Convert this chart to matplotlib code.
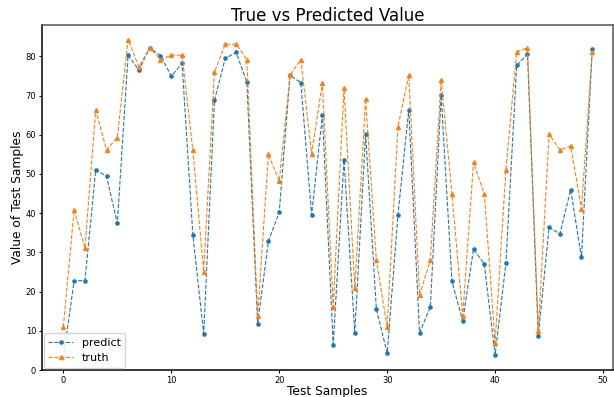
import numpy as np
import matplotlib
matplotlib.use("Agg")
import matplotlib.pyplot as plt

# test sample index
samples = list(range(50))

# model output
predict = [3.0, 22.8, 22.8, 51.1, 49.4, 37.4, 80.3, 76.5, 82.2, 80.2,
           75.0, 78.2, 34.4, 9.3, 68.8, 79.5, 81.0, 73.5, 11.8, 32.9,
           40.2, 75.2, 73.3, 39.6, 65.0, 6.5, 53.6, 9.5, 60.3, 15.5,
           4.3, 39.6, 66.4, 9.5, 16.1, 70.1, 22.6, 12.5, 30.9, 27.0,
           3.8, 27.3, 77.7, 80.6, 8.7, 36.4, 34.7, 46.0, 28.7, 81.9]

# ground truth
truth = [11.0, 40.9, 31.1, 66.2, 56.2, 59.3, 84.3, 77.3, 82.2, 79.2,
         80.3, 80.3, 56.0, 25.1, 76.0, 83.1, 83.1, 79.2, 13.8, 55.0,
         48.2, 75.2, 79.2, 55.2, 73.2, 16.1, 72.0, 20.9, 69.1, 28.0,
         11.0, 62.1, 75.2, 19.1, 28.0, 74.1, 44.9, 13.8, 53.0, 44.9,
         7.0, 51.1, 81.2, 82.2, 10.0, 60.1, 56.2, 57.1, 41.1, 81.2]

fig = plt.figure(figsize=(6.14, 3.97), dpi=100)
ax = fig.add_axes([0.068, 0.068, 0.93, 0.869])

ax.plot(samples, predict, linestyle="--", marker="o", markersize=2.3,
        linewidth=0.8, color="tab:blue", label="predict")
ax.plot(samples, truth, linestyle="--", marker="^", markersize=2.8,
        linewidth=0.8, color="tab:orange", label="truth")

ax.set_title("True vs Predicted Value", fontsize=12, pad=3)
ax.set_xlabel("Test Samples", fontsize=8.8, labelpad=0)
ax.set_ylabel("Value of Test Samples", fontsize=8.8, labelpad=1)
ax.tick_params(labelsize=6, length=2.5, pad=1.5)
ax.set_xlim(-2.0, 50.9)
ax.set_ylim(0, 88)
for name, s in ax.spines.items():
    s.set_linewidth(1.1)
    if name in ("top", "right"):
        s.set_color("#555555")

ax.legend(loc="lower left", fontsize=8, borderaxespad=0.2, handlelength=2.2)

fig.savefig("out.png", dpi=100)
